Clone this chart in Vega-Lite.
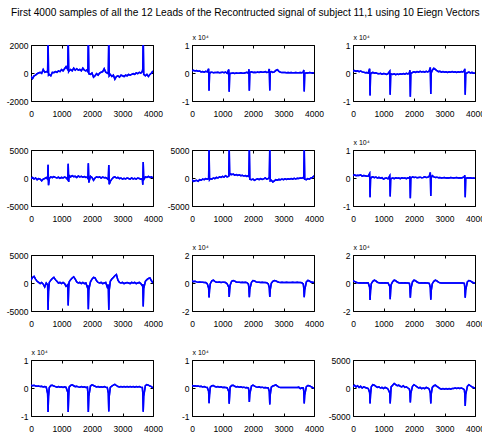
{
"$schema":"https://vega.github.io/schema/vega-lite/v6.json",
"padding":{"left":5,"top":8,"right":0,"bottom":0},
"background":"white",
"title":{"text":"First 4000 samples of all the 12 Leads of the Recontructed signal of  subject 11,1 using 10 Eiegn Vectors","anchor":"middle","fontSize":10.2,"font":"Liberation Sans","fontWeight":"normal","color":"#000","offset":14},
"columns":3,
"spacing":{"row":49,"column":39},
"bounds":"flush",
"datasets":{"ecg":[
{"t":0,"L1":-250,"L2":800,"L3":700,"L4":-100,"L5":-300,"L6":900,"L7":500,"L8":1500,"L9":1500,"L10":1000,"L11":900,"L12":300},
{"t":50,"L1":-400,"L2":1000,"L3":900,"L4":100,"L5":-600,"L6":1100,"L7":1000,"L8":1000,"L9":1200,"L10":800,"L11":700,"L12":500},
{"t":100,"L1":-200,"L2":700,"L3":600,"L4":-200,"L5":-500,"L6":800,"L7":1200,"L8":1200,"L9":500,"L10":1000,"L11":800,"L12":200},
{"t":150,"L1":-150,"L2":900,"L3":800,"L4":0,"L5":-400,"L6":1000,"L7":700,"L8":800,"L9":200,"L10":700,"L11":600,"L12":400},
{"t":200,"L1":-50,"L2":600,"L3":500,"L4":-300,"L5":-600,"L6":900,"L7":300,"L8":600,"L9":0,"L10":600,"L11":700,"L12":100},
{"t":250,"L1":0,"L2":700,"L3":700,"L4":-100,"L5":-300,"L6":1100,"L7":100,"L8":700,"L9":100,"L10":700,"L11":500,"L12":300},
{"t":300,"L1":50,"L2":400,"L3":400,"L4":-200,"L5":-400,"L6":700,"L7":-100,"L8":500,"L9":0,"L10":500,"L11":600,"L12":0},
{"t":350,"L1":-20,"L2":500,"L3":300,"L4":-500,"L5":-200,"L6":900,"L7":100,"L8":600,"L9":100,"L10":600,"L11":400,"L12":200},
{"t":400,"L1":250,"L2":300,"L3":100,"L4":-200,"L5":-300,"L6":800,"L7":-200,"L8":400,"L9":0,"L10":400,"L11":500,"L12":100},
{"t":450,"L1":50,"L2":600,"L3":200,"L4":-100,"L5":-100,"L6":600,"L7":-700,"L8":300,"L9":100,"L10":500,"L11":300,"L12":0},
{"t":500,"L1":100,"L2":400,"L3":0,"L4":100,"L5":-200,"L6":700,"L7":0,"L8":-500,"L9":0,"L10":300,"L11":200,"L12":-100},
{"t":545,"L1":60,"L2":1500,"L3":1500,"L4":-200,"L5":-100,"L6":1600,"L7":-300,"L8":-3500,"L9":-3000,"L10":-2000,"L11":-1200,"L12":-800},
{"t":560,"L1":2600,"L2":-6300,"L3":-8000,"L4":2350,"L5":5500,"L6":-6900,"L7":-4800,"L8":-10300,"L9":-12200,"L10":-8600,"L11":-5400,"L12":-2750},
{"t":575,"L1":-150,"L2":-300,"L3":-500,"L4":-1300,"L5":-300,"L6":-300,"L7":-1500,"L8":-5000,"L9":-5500,"L10":-3000,"L11":-2500,"L12":-1200},
{"t":600,"L1":-100,"L2":200,"L3":0,"L4":-100,"L5":-100,"L6":200,"L7":100,"L8":-500,"L9":-500,"L10":200,"L11":300,"L12":200},
{"t":650,"L1":-200,"L2":300,"L3":200,"L4":200,"L5":-200,"L6":400,"L7":500,"L8":1500,"L9":1200,"L10":900,"L11":800,"L12":600},
{"t":700,"L1":50,"L2":100,"L3":-100,"L4":50,"L5":0,"L6":100,"L7":800,"L8":2000,"L9":2000,"L10":1000,"L11":900,"L12":500},
{"t":750,"L1":20,"L2":200,"L3":100,"L4":250,"L5":-100,"L6":300,"L7":1000,"L8":1200,"L9":1500,"L10":700,"L11":500,"L12":300},
{"t":800,"L1":100,"L2":150,"L3":-200,"L4":100,"L5":100,"L6":0,"L7":600,"L8":600,"L9":500,"L10":500,"L11":400,"L12":100},
{"t":850,"L1":50,"L2":250,"L3":-300,"L4":0,"L5":0,"L6":200,"L7":300,"L8":500,"L9":100,"L10":300,"L11":500,"L12":200},
{"t":900,"L1":150,"L2":100,"L3":-100,"L4":150,"L5":200,"L6":-100,"L7":0,"L8":700,"L9":0,"L10":500,"L11":300,"L12":0},
{"t":950,"L1":100,"L2":200,"L3":-400,"L4":-50,"L5":100,"L6":100,"L7":100,"L8":400,"L9":100,"L10":300,"L11":400,"L12":100},
{"t":1000,"L1":250,"L2":300,"L3":-200,"L4":100,"L5":300,"L6":-400,"L7":-100,"L8":600,"L9":0,"L10":400,"L11":200,"L12":-100},
{"t":1050,"L1":150,"L2":100,"L3":-300,"L4":0,"L5":150,"L6":-100,"L7":100,"L8":500,"L9":100,"L10":200,"L11":300,"L12":100},
{"t":1100,"L1":300,"L2":350,"L3":-500,"L4":150,"L5":400,"L6":0,"L7":-100,"L8":300,"L9":0,"L10":400,"L11":200,"L12":0},
{"t":1150,"L1":450,"L2":-100,"L3":-200,"L4":50,"L5":200,"L6":-300,"L7":-600,"L8":-500,"L9":0,"L10":200,"L11":100,"L12":-200},
{"t":1205,"L1":250,"L2":1200,"L3":600,"L4":-300,"L5":300,"L6":800,"L7":-300,"L8":-3000,"L9":-2500,"L10":-1500,"L11":-1200,"L12":-900},
{"t":1220,"L1":2600,"L2":-6700,"L3":-7800,"L4":2550,"L5":5500,"L6":-6600,"L7":-4000,"L8":-10000,"L9":-11500,"L10":-8600,"L11":-5600,"L12":-2750},
{"t":1235,"L1":100,"L2":-400,"L3":-600,"L4":-700,"L5":500,"L6":-500,"L7":-1000,"L8":-5000,"L9":-5000,"L10":-3000,"L11":-2500,"L12":-1200},
{"t":1250,"L1":150,"L2":-200,"L3":-300,"L4":500,"L5":800,"L6":-200,"L7":200,"L8":-1500,"L9":-1200,"L10":300,"L11":300,"L12":200},
{"t":1300,"L1":250,"L2":-100,"L3":-500,"L4":200,"L5":600,"L6":0,"L7":600,"L8":1200,"L9":1000,"L10":900,"L11":900,"L12":500},
{"t":1350,"L1":150,"L2":0,"L3":-300,"L4":400,"L5":700,"L6":-200,"L7":900,"L8":1800,"L9":2000,"L10":1100,"L11":1000,"L12":800},
{"t":1400,"L1":350,"L2":-150,"L3":-600,"L4":250,"L5":500,"L6":100,"L7":1100,"L8":1300,"L9":1600,"L10":800,"L11":600,"L12":600},
{"t":1450,"L1":200,"L2":0,"L3":-400,"L4":300,"L5":600,"L6":-100,"L7":700,"L8":700,"L9":700,"L10":500,"L11":400,"L12":400},
{"t":1500,"L1":300,"L2":-50,"L3":-500,"L4":100,"L5":450,"L6":0,"L7":200,"L8":500,"L9":200,"L10":600,"L11":500,"L12":500},
{"t":1550,"L1":200,"L2":-100,"L3":-300,"L4":350,"L5":550,"L6":-200,"L7":0,"L8":600,"L9":0,"L10":400,"L11":300,"L12":300},
{"t":1600,"L1":250,"L2":50,"L3":-400,"L4":200,"L5":400,"L6":100,"L7":100,"L8":400,"L9":100,"L10":300,"L11":400,"L12":200},
{"t":1650,"L1":150,"L2":-100,"L3":-200,"L4":300,"L5":500,"L6":-100,"L7":-100,"L8":500,"L9":0,"L10":500,"L11":200,"L12":400},
{"t":1700,"L1":350,"L2":-50,"L3":-400,"L4":150,"L5":350,"L6":0,"L7":100,"L8":300,"L9":100,"L10":300,"L11":300,"L12":100},
{"t":1750,"L1":200,"L2":100,"L3":-100,"L4":250,"L5":450,"L6":-200,"L7":-100,"L8":500,"L9":0,"L10":400,"L11":100,"L12":200},
{"t":1800,"L1":150,"L2":250,"L3":-300,"L4":100,"L5":300,"L6":100,"L7":0,"L8":300,"L9":0,"L10":200,"L11":200,"L12":0},
{"t":1850,"L1":250,"L2":-100,"L3":0,"L4":200,"L5":400,"L6":-100,"L7":-800,"L8":-800,"L9":-200,"L10":300,"L11":0,"L12":-200},
{"t":1865,"L1":50,"L2":1300,"L3":1000,"L4":-200,"L5":200,"L6":600,"L7":-400,"L8":-3500,"L9":-3000,"L10":-2000,"L11":-1000,"L12":-800},
{"t":1880,"L1":2600,"L2":-6300,"L3":-8500,"L4":2650,"L5":5500,"L6":-7200,"L7":-4700,"L8":-10200,"L9":-10500,"L10":-8600,"L11":-5000,"L12":-2600},
{"t":1895,"L1":-50,"L2":200,"L3":-200,"L4":-800,"L5":-200,"L6":-100,"L7":-1200,"L8":-4500,"L9":-4500,"L10":-3000,"L11":-2200,"L12":-1000},
{"t":1950,"L1":-100,"L2":400,"L3":200,"L4":300,"L5":-300,"L6":400,"L7":200,"L8":500,"L9":800,"L10":700,"L11":700,"L12":300},
{"t":2000,"L1":0,"L2":200,"L3":400,"L4":100,"L5":-200,"L6":200,"L7":700,"L8":1800,"L9":2000,"L10":1100,"L11":1000,"L12":600},
{"t":2050,"L1":-300,"L2":300,"L3":200,"L4":-400,"L5":-400,"L6":300,"L7":1000,"L8":1500,"L9":1600,"L10":900,"L11":700,"L12":400},
{"t":2100,"L1":-200,"L2":150,"L3":500,"L4":0,"L5":-250,"L6":100,"L7":900,"L8":800,"L9":700,"L10":600,"L11":400,"L12":200},
{"t":2150,"L1":-50,"L2":350,"L3":300,"L4":200,"L5":-150,"L6":200,"L7":400,"L8":500,"L9":200,"L10":400,"L11":300,"L12":0},
{"t":2200,"L1":-150,"L2":200,"L3":600,"L4":100,"L5":-300,"L6":300,"L7":100,"L8":600,"L9":0,"L10":500,"L11":400,"L12":100},
{"t":2250,"L1":0,"L2":400,"L3":400,"L4":200,"L5":-100,"L6":100,"L7":0,"L8":400,"L9":100,"L10":300,"L11":200,"L12":-100},
{"t":2300,"L1":50,"L2":250,"L3":500,"L4":0,"L5":-250,"L6":200,"L7":100,"L8":500,"L9":0,"L10":400,"L11":300,"L12":0},
{"t":2350,"L1":100,"L2":300,"L3":300,"L4":150,"L5":-150,"L6":400,"L7":-100,"L8":300,"L9":100,"L10":300,"L11":100,"L12":-100},
{"t":2400,"L1":300,"L2":500,"L3":600,"L4":50,"L5":0,"L6":200,"L7":0,"L8":400,"L9":0,"L10":500,"L11":200,"L12":100},
{"t":2450,"L1":50,"L2":200,"L3":400,"L4":100,"L5":-200,"L6":300,"L7":100,"L8":200,"L9":0,"L10":300,"L11":100,"L12":0},
{"t":2500,"L1":0,"L2":300,"L3":700,"L4":-100,"L5":-100,"L6":600,"L7":-700,"L8":-600,"L9":-200,"L10":200,"L11":0,"L12":-200},
{"t":2535,"L1":-50,"L2":1400,"L3":2000,"L4":-300,"L5":100,"L6":2000,"L7":-300,"L8":-3500,"L9":-3200,"L10":-1800,"L11":-1300,"L12":-900},
{"t":2550,"L1":2600,"L2":-6200,"L3":-7500,"L4":2300,"L5":5500,"L6":-6400,"L7":-4800,"L8":-10000,"L9":-12000,"L10":-8400,"L11":-5900,"L12":-2750},
{"t":2565,"L1":-200,"L2":300,"L3":0,"L4":-1100,"L5":-500,"L6":0,"L7":-1300,"L8":-5000,"L9":-5500,"L10":-3000,"L11":-2500,"L12":-1100},
{"t":2600,"L1":-100,"L2":500,"L3":1000,"L4":-600,"L5":-400,"L6":800,"L7":300,"L8":-300,"L9":-500,"L10":200,"L11":300,"L12":100},
{"t":2650,"L1":-250,"L2":200,"L3":1700,"L4":-200,"L5":-700,"L6":400,"L7":700,"L8":1200,"L9":1200,"L10":700,"L11":700,"L12":400},
{"t":2700,"L1":-150,"L2":400,"L3":1300,"L4":100,"L5":-500,"L6":200,"L7":1000,"L8":1800,"L9":2000,"L10":1000,"L11":900,"L12":500},
{"t":2750,"L1":-450,"L2":900,"L3":800,"L4":200,"L5":-300,"L6":300,"L7":1300,"L8":1500,"L9":1500,"L10":1300,"L11":1100,"L12":300},
{"t":2800,"L1":-250,"L2":1200,"L3":500,"L4":0,"L5":-400,"L6":100,"L7":1500,"L8":900,"L9":600,"L10":900,"L11":700,"L12":100},
{"t":2850,"L1":-200,"L2":600,"L3":600,"L4":100,"L5":-250,"L6":200,"L7":500,"L8":500,"L9":100,"L10":500,"L11":300,"L12":-100},
{"t":2900,"L1":-300,"L2":300,"L3":300,"L4":-100,"L5":-300,"L6":0,"L7":100,"L8":400,"L9":0,"L10":400,"L11":200,"L12":-200},
{"t":2950,"L1":-150,"L2":200,"L3":500,"L4":0,"L5":-200,"L6":100,"L7":0,"L8":500,"L9":0,"L10":500,"L11":200,"L12":-100},
{"t":3000,"L1":-200,"L2":150,"L3":300,"L4":-200,"L5":-300,"L6":200,"L7":100,"L8":300,"L9":0,"L10":400,"L11":200,"L12":-200},
{"t":3050,"L1":-250,"L2":200,"L3":400,"L4":-50,"L5":-150,"L6":0,"L7":-100,"L8":400,"L9":0,"L10":500,"L11":200,"L12":-100},
{"t":3100,"L1":-150,"L2":100,"L3":200,"L4":-150,"L5":-250,"L6":100,"L7":0,"L8":500,"L9":0,"L10":400,"L11":200,"L12":-200},
{"t":3150,"L1":-200,"L2":150,"L3":400,"L4":0,"L5":-150,"L6":0,"L7":100,"L8":300,"L9":0,"L10":500,"L11":200,"L12":-100},
{"t":3200,"L1":-100,"L2":50,"L3":300,"L4":-100,"L5":-200,"L6":200,"L7":0,"L8":400,"L9":0,"L10":400,"L11":200,"L12":-200},
{"t":3250,"L1":-150,"L2":150,"L3":500,"L4":-200,"L5":-100,"L6":100,"L7":-100,"L8":300,"L9":0,"L10":500,"L11":200,"L12":-100},
{"t":3300,"L1":-100,"L2":100,"L3":300,"L4":0,"L5":-200,"L6":0,"L7":100,"L8":500,"L9":0,"L10":400,"L11":200,"L12":-100},
{"t":3350,"L1":-50,"L2":50,"L3":400,"L4":-150,"L5":-50,"L6":100,"L7":0,"L8":400,"L9":0,"L10":500,"L11":200,"L12":0},
{"t":3400,"L1":-100,"L2":150,"L3":200,"L4":-50,"L5":-150,"L6":200,"L7":100,"L8":300,"L9":0,"L10":300,"L11":200,"L12":-100},
{"t":3450,"L1":0,"L2":100,"L3":400,"L4":-200,"L5":-50,"L6":0,"L7":-100,"L8":500,"L9":0,"L10":500,"L11":200,"L12":0},
{"t":3500,"L1":-50,"L2":50,"L3":300,"L4":0,"L5":-100,"L6":100,"L7":0,"L8":400,"L9":0,"L10":400,"L11":300,"L12":-100},
{"t":3550,"L1":50,"L2":150,"L3":500,"L4":-100,"L5":0,"L6":0,"L7":100,"L8":300,"L9":0,"L10":500,"L11":-200,"L12":0},
{"t":3600,"L1":0,"L2":100,"L3":400,"L4":-200,"L5":-50,"L6":200,"L7":-100,"L8":200,"L9":0,"L10":300,"L11":100,"L12":-100},
{"t":3650,"L1":100,"L2":300,"L3":800,"L4":-100,"L5":100,"L6":400,"L7":-500,"L8":-800,"L9":-200,"L10":200,"L11":0,"L12":-300},
{"t":3665,"L1":300,"L2":1100,"L3":1500,"L4":-1200,"L5":0,"L6":1000,"L7":-200,"L8":-3800,"L9":-3000,"L10":-1800,"L11":-1200,"L12":-1000},
{"t":3680,"L1":2600,"L2":-6600,"L3":-7800,"L4":2850,"L5":5500,"L6":-6900,"L7":-4200,"L8":-10200,"L9":-10500,"L10":-8500,"L11":-5500,"L12":-3200},
{"t":3695,"L1":-100,"L2":-200,"L3":-300,"L4":-300,"L5":-200,"L6":-200,"L7":-1000,"L8":-5000,"L9":-5000,"L10":-3000,"L11":-2500,"L12":-1200},
{"t":3750,"L1":-200,"L2":100,"L3":100,"L4":200,"L5":-300,"L6":100,"L7":300,"L8":800,"L9":800,"L10":800,"L11":500,"L12":300},
{"t":3800,"L1":-100,"L2":0,"L3":300,"L4":100,"L5":-100,"L6":0,"L7":600,"L8":1800,"L9":1800,"L10":1200,"L11":900,"L12":600},
{"t":3850,"L1":-250,"L2":150,"L3":0,"L4":300,"L5":-200,"L6":100,"L7":800,"L8":1400,"L9":1500,"L10":1000,"L11":800,"L12":400},
{"t":3900,"L1":-100,"L2":50,"L3":200,"L4":100,"L5":0,"L6":-100,"L7":900,"L8":700,"L9":700,"L10":700,"L11":500,"L12":200},
{"t":3950,"L1":0,"L2":100,"L3":-100,"L4":200,"L5":100,"L6":0,"L7":400,"L8":500,"L9":200,"L10":500,"L11":200,"L12":100},
{"t":4000,"L1":150,"L2":0,"L3":0,"L4":0,"L5":400,"L6":-100,"L7":0,"L8":300,"L9":0,"L10":0,"L11":-100,"L12":0}
]},
"concat":[
{"width":122,"height":56,"data":{"name":"ecg"},"resolve":{"axis":{"x":"independent","y":"independent"}},"layer":[
{"mark":{"type":"line","color":"#0000ff","strokeWidth":1.5,"clip":true},"encoding":{"x":{"field":"t","type":"quantitative","scale":{"domain":[0,4000],"nice":false},"axis":{"values":[0,1000,2000,3000,4000],"labelExpr":"'' + datum.value","labelPadding":11,"title":null}},"y":{"field":"L1","type":"quantitative","scale":{"domain":[-2000,2000],"nice":false},"axis":{"values":[-2000,0,2000],"labelExpr":"'' + datum.value","title":null}}}},
{"mark":{"type":"line","color":"#0000ff","strokeWidth":1.5,"clip":true},"encoding":{"x":{"field":"t","type":"quantitative","axis":{"orient":"top","values":[0,1000,2000,3000,4000],"labels":false,"title":null}},"y":{"field":"L1","type":"quantitative","axis":{"orient":"right","values":[-2000,0,2000],"labels":false,"title":null}}}}]},
{"width":122,"height":56,"data":{"name":"ecg"},"resolve":{"axis":{"x":"independent","y":"independent"}},"layer":[
{"mark":{"type":"line","color":"#0000ff","strokeWidth":1.5,"clip":true},"encoding":{"x":{"field":"t","type":"quantitative","scale":{"domain":[0,4000],"nice":false},"axis":{"values":[0,1000,2000,3000,4000],"labelExpr":"'' + datum.value","labelPadding":11,"title":null}},"y":{"field":"L2","type":"quantitative","scale":{"domain":[-10000,10000],"nice":false},"axis":{"values":[-10000,0,10000],"labelExpr":"'' + datum.value/10000","title":"x 10⁴"}}}},
{"mark":{"type":"line","color":"#0000ff","strokeWidth":1.5,"clip":true},"encoding":{"x":{"field":"t","type":"quantitative","axis":{"orient":"top","values":[0,1000,2000,3000,4000],"labels":false,"title":null}},"y":{"field":"L2","type":"quantitative","axis":{"orient":"right","values":[-10000,0,10000],"labels":false,"title":null}}}}]},
{"width":122,"height":56,"data":{"name":"ecg"},"resolve":{"axis":{"x":"independent","y":"independent"}},"layer":[
{"mark":{"type":"line","color":"#0000ff","strokeWidth":1.5,"clip":true},"encoding":{"x":{"field":"t","type":"quantitative","scale":{"domain":[0,4000],"nice":false},"axis":{"values":[0,1000,2000,3000,4000],"labelExpr":"'' + datum.value","labelPadding":11,"title":null}},"y":{"field":"L3","type":"quantitative","scale":{"domain":[-10000,10000],"nice":false},"axis":{"values":[-10000,0,10000],"labelExpr":"'' + datum.value/10000","title":"x 10⁴"}}}},
{"mark":{"type":"line","color":"#0000ff","strokeWidth":1.5,"clip":true},"encoding":{"x":{"field":"t","type":"quantitative","axis":{"orient":"top","values":[0,1000,2000,3000,4000],"labels":false,"title":null}},"y":{"field":"L3","type":"quantitative","axis":{"orient":"right","values":[-10000,0,10000],"labels":false,"title":null}}}}]},
{"width":122,"height":56,"data":{"name":"ecg"},"resolve":{"axis":{"x":"independent","y":"independent"}},"layer":[
{"mark":{"type":"line","color":"#0000ff","strokeWidth":1.5,"clip":true},"encoding":{"x":{"field":"t","type":"quantitative","scale":{"domain":[0,4000],"nice":false},"axis":{"values":[0,1000,2000,3000,4000],"labelExpr":"'' + datum.value","labelPadding":11,"title":null}},"y":{"field":"L4","type":"quantitative","scale":{"domain":[-5000,5000],"nice":false},"axis":{"values":[-5000,0,5000],"labelExpr":"'' + datum.value","title":null}}}},
{"mark":{"type":"line","color":"#0000ff","strokeWidth":1.5,"clip":true},"encoding":{"x":{"field":"t","type":"quantitative","axis":{"orient":"top","values":[0,1000,2000,3000,4000],"labels":false,"title":null}},"y":{"field":"L4","type":"quantitative","axis":{"orient":"right","values":[-5000,0,5000],"labels":false,"title":null}}}}]},
{"width":122,"height":56,"data":{"name":"ecg"},"resolve":{"axis":{"x":"independent","y":"independent"}},"layer":[
{"mark":{"type":"line","color":"#0000ff","strokeWidth":1.5,"clip":true},"encoding":{"x":{"field":"t","type":"quantitative","scale":{"domain":[0,4000],"nice":false},"axis":{"values":[0,1000,2000,3000,4000],"labelExpr":"'' + datum.value","labelPadding":11,"title":null}},"y":{"field":"L5","type":"quantitative","scale":{"domain":[-5000,5000],"nice":false},"axis":{"values":[-5000,0,5000],"labelExpr":"'' + datum.value","title":null}}}},
{"mark":{"type":"line","color":"#0000ff","strokeWidth":1.5,"clip":true},"encoding":{"x":{"field":"t","type":"quantitative","axis":{"orient":"top","values":[0,1000,2000,3000,4000],"labels":false,"title":null}},"y":{"field":"L5","type":"quantitative","axis":{"orient":"right","values":[-5000,0,5000],"labels":false,"title":null}}}}]},
{"width":122,"height":56,"data":{"name":"ecg"},"resolve":{"axis":{"x":"independent","y":"independent"}},"layer":[
{"mark":{"type":"line","color":"#0000ff","strokeWidth":1.5,"clip":true},"encoding":{"x":{"field":"t","type":"quantitative","scale":{"domain":[0,4000],"nice":false},"axis":{"values":[0,1000,2000,3000,4000],"labelExpr":"'' + datum.value","labelPadding":11,"title":null}},"y":{"field":"L6","type":"quantitative","scale":{"domain":[-10000,10000],"nice":false},"axis":{"values":[-10000,0,10000],"labelExpr":"'' + datum.value/10000","title":"x 10⁴"}}}},
{"mark":{"type":"line","color":"#0000ff","strokeWidth":1.5,"clip":true},"encoding":{"x":{"field":"t","type":"quantitative","axis":{"orient":"top","values":[0,1000,2000,3000,4000],"labels":false,"title":null}},"y":{"field":"L6","type":"quantitative","axis":{"orient":"right","values":[-10000,0,10000],"labels":false,"title":null}}}}]},
{"width":122,"height":56,"data":{"name":"ecg"},"resolve":{"axis":{"x":"independent","y":"independent"}},"layer":[
{"mark":{"type":"line","color":"#0000ff","strokeWidth":1.5,"clip":true},"encoding":{"x":{"field":"t","type":"quantitative","scale":{"domain":[0,4000],"nice":false},"axis":{"values":[0,1000,2000,3000,4000],"labelExpr":"'' + datum.value","labelPadding":11,"title":null}},"y":{"field":"L7","type":"quantitative","scale":{"domain":[-5000,5000],"nice":false},"axis":{"values":[-5000,0,5000],"labelExpr":"'' + datum.value","title":null}}}},
{"mark":{"type":"line","color":"#0000ff","strokeWidth":1.5,"clip":true},"encoding":{"x":{"field":"t","type":"quantitative","axis":{"orient":"top","values":[0,1000,2000,3000,4000],"labels":false,"title":null}},"y":{"field":"L7","type":"quantitative","axis":{"orient":"right","values":[-5000,0,5000],"labels":false,"title":null}}}}]},
{"width":122,"height":56,"data":{"name":"ecg"},"resolve":{"axis":{"x":"independent","y":"independent"}},"layer":[
{"mark":{"type":"line","color":"#0000ff","strokeWidth":1.5,"clip":true},"encoding":{"x":{"field":"t","type":"quantitative","scale":{"domain":[0,4000],"nice":false},"axis":{"values":[0,1000,2000,3000,4000],"labelExpr":"'' + datum.value","labelPadding":11,"title":null}},"y":{"field":"L8","type":"quantitative","scale":{"domain":[-20000,20000],"nice":false},"axis":{"values":[-20000,0,20000],"labelExpr":"'' + datum.value/10000","title":"x 10⁴"}}}},
{"mark":{"type":"line","color":"#0000ff","strokeWidth":1.5,"clip":true},"encoding":{"x":{"field":"t","type":"quantitative","axis":{"orient":"top","values":[0,1000,2000,3000,4000],"labels":false,"title":null}},"y":{"field":"L8","type":"quantitative","axis":{"orient":"right","values":[-20000,0,20000],"labels":false,"title":null}}}}]},
{"width":122,"height":56,"data":{"name":"ecg"},"resolve":{"axis":{"x":"independent","y":"independent"}},"layer":[
{"mark":{"type":"line","color":"#0000ff","strokeWidth":1.5,"clip":true},"encoding":{"x":{"field":"t","type":"quantitative","scale":{"domain":[0,4000],"nice":false},"axis":{"values":[0,1000,2000,3000,4000],"labelExpr":"'' + datum.value","labelPadding":11,"title":null}},"y":{"field":"L9","type":"quantitative","scale":{"domain":[-20000,20000],"nice":false},"axis":{"values":[-20000,0,20000],"labelExpr":"'' + datum.value/10000","title":"x 10⁴"}}}},
{"mark":{"type":"line","color":"#0000ff","strokeWidth":1.5,"clip":true},"encoding":{"x":{"field":"t","type":"quantitative","axis":{"orient":"top","values":[0,1000,2000,3000,4000],"labels":false,"title":null}},"y":{"field":"L9","type":"quantitative","axis":{"orient":"right","values":[-20000,0,20000],"labels":false,"title":null}}}}]},
{"width":122,"height":56,"data":{"name":"ecg"},"resolve":{"axis":{"x":"independent","y":"independent"}},"layer":[
{"mark":{"type":"line","color":"#0000ff","strokeWidth":1.5,"clip":true},"encoding":{"x":{"field":"t","type":"quantitative","scale":{"domain":[0,4000],"nice":false},"axis":{"values":[0,1000,2000,3000,4000],"labelExpr":"'' + datum.value","labelPadding":11,"title":null}},"y":{"field":"L10","type":"quantitative","scale":{"domain":[-10000,10000],"nice":false},"axis":{"values":[-10000,0,10000],"labelExpr":"'' + datum.value/10000","title":"x 10⁴"}}}},
{"mark":{"type":"line","color":"#0000ff","strokeWidth":1.5,"clip":true},"encoding":{"x":{"field":"t","type":"quantitative","axis":{"orient":"top","values":[0,1000,2000,3000,4000],"labels":false,"title":null}},"y":{"field":"L10","type":"quantitative","axis":{"orient":"right","values":[-10000,0,10000],"labels":false,"title":null}}}}]},
{"width":122,"height":56,"data":{"name":"ecg"},"resolve":{"axis":{"x":"independent","y":"independent"}},"layer":[
{"mark":{"type":"line","color":"#0000ff","strokeWidth":1.5,"clip":true},"encoding":{"x":{"field":"t","type":"quantitative","scale":{"domain":[0,4000],"nice":false},"axis":{"values":[0,1000,2000,3000,4000],"labelExpr":"'' + datum.value","labelPadding":11,"title":null}},"y":{"field":"L11","type":"quantitative","scale":{"domain":[-10000,10000],"nice":false},"axis":{"values":[-10000,0,10000],"labelExpr":"'' + datum.value/10000","title":"x 10⁴"}}}},
{"mark":{"type":"line","color":"#0000ff","strokeWidth":1.5,"clip":true},"encoding":{"x":{"field":"t","type":"quantitative","axis":{"orient":"top","values":[0,1000,2000,3000,4000],"labels":false,"title":null}},"y":{"field":"L11","type":"quantitative","axis":{"orient":"right","values":[-10000,0,10000],"labels":false,"title":null}}}}]},
{"width":122,"height":56,"data":{"name":"ecg"},"resolve":{"axis":{"x":"independent","y":"independent"}},"layer":[
{"mark":{"type":"line","color":"#0000ff","strokeWidth":1.5,"clip":true},"encoding":{"x":{"field":"t","type":"quantitative","scale":{"domain":[0,4000],"nice":false},"axis":{"values":[0,1000,2000,3000,4000],"labelExpr":"'' + datum.value","labelPadding":11,"title":null}},"y":{"field":"L12","type":"quantitative","scale":{"domain":[-5000,5000],"nice":false},"axis":{"values":[-5000,0,5000],"labelExpr":"'' + datum.value","title":null}}}},
{"mark":{"type":"line","color":"#0000ff","strokeWidth":1.5,"clip":true},"encoding":{"x":{"field":"t","type":"quantitative","axis":{"orient":"top","values":[0,1000,2000,3000,4000],"labels":false,"title":null}},"y":{"field":"L12","type":"quantitative","axis":{"orient":"right","values":[-5000,0,5000],"labels":false,"title":null}}}}]}
],
"config":{
"font":"Liberation Sans",
"view":{"stroke":"#000000","strokeWidth":1},
"axis":{"domain":false,"grid":false,"tickColor":"#000","tickSize":-3,"tickWidth":1,"labelColor":"#000","labelFontSize":8.5,"labelFont":"Liberation Sans","labelPadding":6,"labelFlush":false,"labelOverlap":false},
"axisY":{"titleAngle":0,"titleX":0,"titleY":-5,"titleAlign":"left","titleBaseline":"bottom","titleFontSize":7,"titleFontWeight":"normal","titleColor":"#000","titleFont":"Liberation Sans","titlePadding":0}
}
}
